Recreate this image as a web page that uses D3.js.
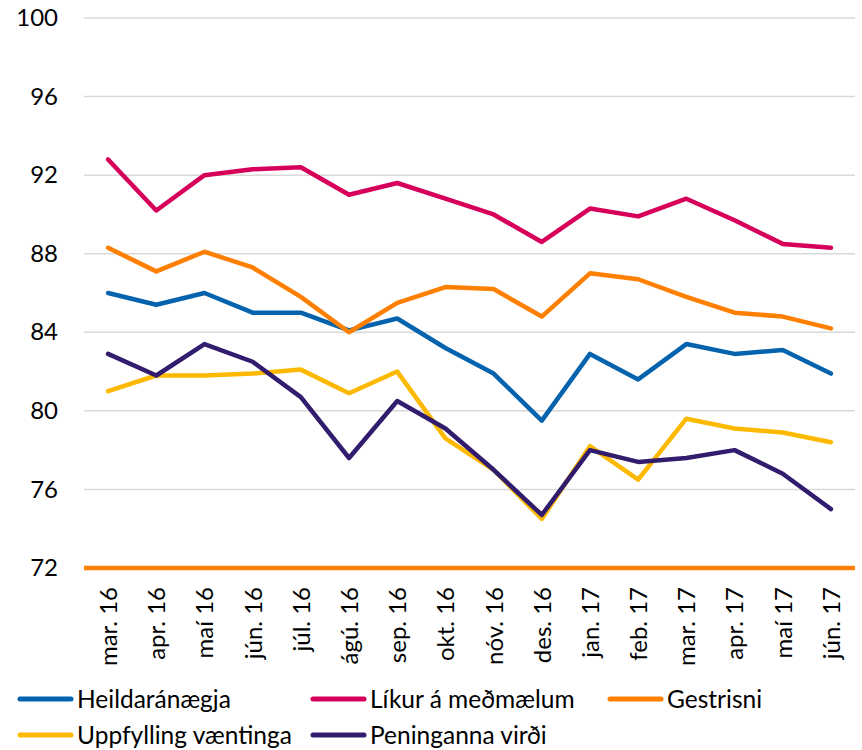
<!DOCTYPE html>
<html>
<head>
  <meta charset="utf-8">
  <title>Ánægjuvog</title>
  <style>
    body { margin: 0; background: #fff; }
    text { font-family: Lato, "Open Sans", sans-serif; fill: #000; }
  </style>
</head>
<body>
  <script src="https://cdn.jsdelivr.net/npm/d3@7/dist/d3.min.js"></script>
  <script>
    // months on the x axis
    var months = ["mar. 16", "apr. 16", "maí 16", "jún. 16", "júl. 16", "ágú. 16",
                  "sep. 16", "okt. 16", "nóv. 16", "des. 16", "jan. 17", "feb. 17",
                  "mar. 17", "apr. 17", "maí 17", "jún. 17"];

    var yTicks = [72, 76, 80, 84, 88, 92, 96, 100];

    // series values
    var heildaranaegja = [86.0, 85.4, 86.0, 85.0, 85.0, 84.1, 84.7, 83.2, 81.9, 79.5, 82.9, 81.6, 83.4, 82.9, 83.1, 81.9];
    var likur          = [92.8, 90.2, 92.0, 92.3, 92.4, 91.0, 91.6, 90.8, 90.0, 88.6, 90.3, 89.9, 90.8, 89.7, 88.5, 88.3];
    var gestrisni      = [88.3, 87.1, 88.1, 87.3, 85.8, 84.0, 85.5, 86.3, 86.2, 84.8, 87.0, 86.7, 85.8, 85.0, 84.8, 84.2];
    var uppfylling     = [81.0, 81.8, 81.8, 81.9, 82.1, 80.9, 82.0, 78.6, 77.0, 74.5, 78.2, 76.5, 79.6, 79.1, 78.9, 78.4];
    var peninganna     = [82.9, 81.8, 83.4, 82.5, 80.7, 77.6, 80.5, 79.1, 77.0, 74.7, 78.0, 77.4, 77.6, 78.0, 76.8, 75.0];

    var seriesNames  = ["Heildaránægja", "Líkur á meðmælum", "Gestrisni", "Uppfylling væntinga", "Peninganna virði"];
    var seriesColors = ["#0563ad", "#d6005b", "#ff7f00", "#fcb900", "#321c6e"];

    var series = [heildaranaegja, likur, gestrisni, uppfylling, peninganna].map(function (v, i) {
      return { name: seriesNames[i], color: seriesColors[i], values: v };
    });

    var W = 862, H = 750;
    var margin = { top: 18, right: 7, bottom: 182, left: 84 };
    var width = W - margin.left - margin.right,
        height = H - margin.top - margin.bottom;

    var svg = d3.select("body").append("svg")
        .attr("width", W)
        .attr("height", H);

    var g = svg.append("g")
        .attr("transform", "translate(" + margin.left + "," + margin.top + ")");

    var x = d3.scalePoint().domain(months).range([0, width]).padding(0.5);
    var y = d3.scaleLinear().domain([72, 100]).range([height, 0]);

    // gridlines
    g.selectAll(".grid")
      .data(yTicks.filter(function (d) { return d > 72; }))
      .enter().append("line")
        .attr("class", "grid")
        .attr("x1", 0).attr("x2", width)
        .attr("y1", function (d) { return y(d); })
        .attr("y2", function (d) { return y(d); })
        .attr("stroke", "#d9d9d9")
        .attr("stroke-width", 1.5);

    // y axis labels
    var yAxis = d3.axisLeft(y).tickValues(yTicks).tickSize(0).tickPadding(26);
    var ya = g.append("g").call(yAxis);
    ya.select(".domain").remove();
    ya.selectAll("text")
      .style("font-size", "24px")
      .attr("fill", "#000");

    // x axis labels, rotated
    var xAxis = d3.axisBottom(x).tickSize(0);
    var xa = g.append("g")
      .attr("transform", "translate(0," + height + ")")
      .call(xAxis);
    xa.select(".domain").remove();
    xa.selectAll("text")
      .style("font-size", "24px")
      .attr("fill", "#000")
      .attr("text-anchor", "end")
      .attr("dy", "0.35em")
      .attr("transform", "rotate(-90) translate(-19,0)")
      .attr("x", 0).attr("y", 0);

    // lines
    var line = d3.line()
      .x(function (d, i) { return x(months[i]); })
      .y(function (d) { return y(d); });

    g.selectAll(".series")
      .data(series)
      .enter().append("path")
        .attr("class", "series")
        .attr("d", function (d) { return line(d.values); })
        .attr("fill", "none")
        .attr("stroke", function (d) { return d.color; })
        .attr("stroke-width", 4.5)
        .attr("stroke-linecap", "round")
        .attr("stroke-linejoin", "round");

    // orange baseline at 72
    g.append("line")
      .attr("x1", 0).attr("x2", width)
      .attr("y1", y(72)).attr("y2", y(72))
      .attr("stroke", "#ff7f00")
      .attr("stroke-width", 4.5);

    // legend
    var legendPos = [[18, 699], [311, 699], [608, 699], [18, 735], [311, 735]];
    var lg = svg.selectAll(".legend")
      .data(series)
      .enter().append("g")
        .attr("class", "legend")
        .attr("transform", function (d, i) { return "translate(" + legendPos[i][0] + "," + legendPos[i][1] + ")"; });

    lg.append("line")
      .attr("x1", 2).attr("x2", 53)
      .attr("stroke", function (d) { return d.color; })
      .attr("stroke-width", 5)
      .attr("stroke-linecap", "round");

    lg.append("text")
      .attr("x", 59)
      .attr("dy", "0.35em")
      .style("font-size", "24.5px")
      .text(function (d) { return d.name; });
  </script>
</body>
</html>
